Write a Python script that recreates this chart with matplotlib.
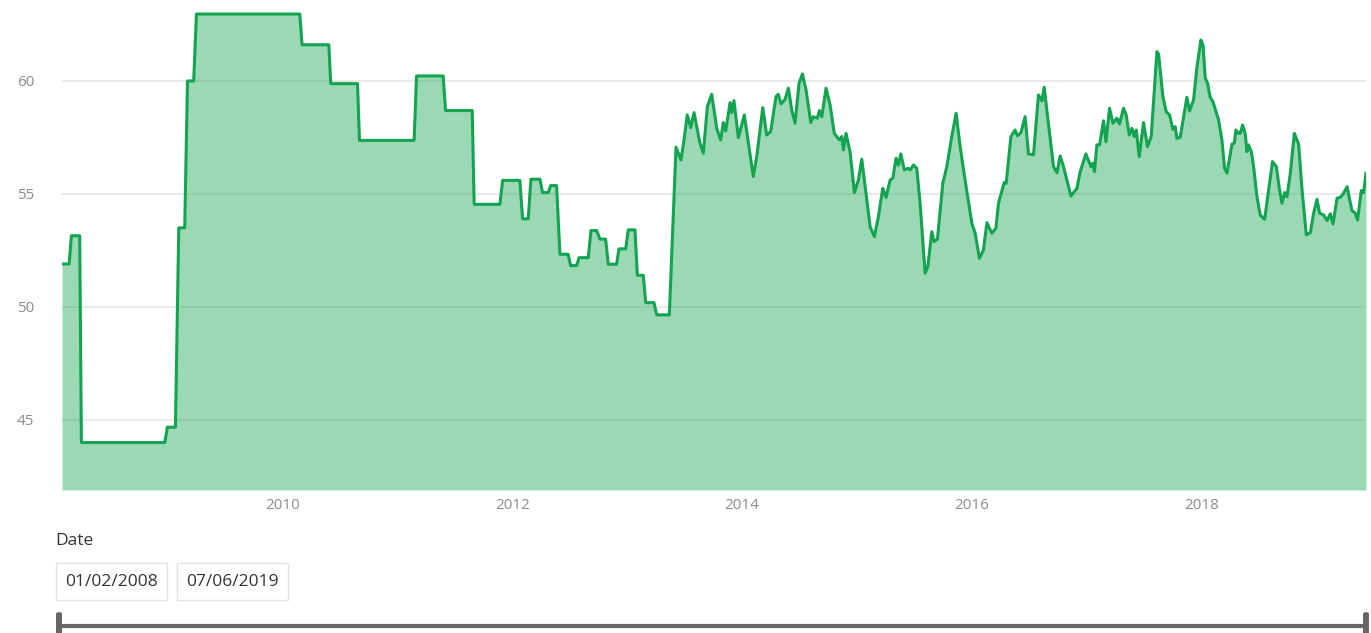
import matplotlib.pyplot as plt
from matplotlib.lines import Line2D
from matplotlib.patches import Rectangle, FancyBboxPatch

# time in decimal years
years = [
    2008.077, 2008.139, 2008.159, 2008.231, 2008.246, 2008.972, 2008.995, 2009.065,
    2009.094, 2009.146, 2009.170, 2009.224, 2009.248, 2010.148, 2010.168, 2010.401,
    2010.418, 2010.651, 2010.668, 2011.144, 2011.165, 2011.397, 2011.418, 2011.650,
    2011.667, 2011.891, 2011.915, 2012.065, 2012.089, 2012.138, 2012.161, 2012.240,
    2012.263, 2012.312, 2012.333, 2012.385, 2012.414, 2012.486, 2012.507, 2012.560,
    2012.580, 2012.661, 2012.684, 2012.734, 2012.763, 2012.812, 2012.835, 2012.908,
    2012.928, 2012.987, 2013.009, 2013.068, 2013.088, 2013.140, 2013.161, 2013.233,
    2013.257, 2013.367,
    2013.425, 2013.468, 2013.495, 2013.523, 2013.553, 2013.582, 2013.634, 2013.663,
    2013.698, 2013.736, 2013.780, 2013.814, 2013.837, 2013.858, 2013.896, 2013.910,
    2013.930, 2013.968, 2014.020, 2014.098, 2014.128, 2014.181, 2014.215, 2014.250,
    2014.296, 2014.316, 2014.340, 2014.375, 2014.404, 2014.433, 2014.462, 2014.497,
    2014.526, 2014.558, 2014.599, 2014.621, 2014.656, 2014.674, 2014.695, 2014.732,
    2014.767, 2014.804, 2014.848, 2014.869, 2014.883, 2014.906, 2014.941, 2014.979,
    2015.014, 2015.043, 2015.087, 2015.116, 2015.153, 2015.188, 2015.226, 2015.255,
    2015.290, 2015.313, 2015.342, 2015.362, 2015.383, 2015.414, 2015.449, 2015.464,
    2015.493, 2015.522, 2015.551, 2015.595, 2015.618, 2015.653, 2015.673, 2015.702,
    2015.749, 2015.784, 2015.827, 2015.865, 2015.900, 2015.943, 2016.002, 2016.031,
    2016.068, 2016.103, 2016.133, 2016.176, 2016.211, 2016.234, 2016.283, 2016.301,
    2016.342, 2016.379, 2016.399, 2016.429, 2016.466, 2016.495, 2016.539, 2016.582,
    2016.612, 2016.632, 2016.669, 2016.713, 2016.743, 2016.771, 2016.800, 2016.865,
    2016.917, 2016.946, 2016.995, 2017.039, 2017.056, 2017.070, 2017.091, 2017.114,
    2017.149, 2017.170, 2017.201, 2017.231, 2017.265, 2017.288, 2017.323, 2017.346,
    2017.373, 2017.396, 2017.416, 2017.434, 2017.460, 2017.497, 2017.532, 2017.564,
    2017.614, 2017.628, 2017.666, 2017.695, 2017.724, 2017.753, 2017.773, 2017.788,
    2017.817, 2017.875, 2017.898, 2017.933, 2017.963, 2017.997, 2018.015, 2018.035,
    2018.055, 2018.078, 2018.102, 2018.151, 2018.180, 2018.203, 2018.224, 2018.268,
    2018.288, 2018.302, 2018.325, 2018.340, 2018.360, 2018.383, 2018.398, 2018.412,
    2018.436, 2018.456, 2018.485, 2018.514, 2018.552, 2018.587, 2018.621, 2018.654,
    2018.682, 2018.703, 2018.726, 2018.747, 2018.776, 2018.811, 2018.848, 2018.878,
    2018.915, 2018.950, 2018.979, 2019.008, 2019.031, 2019.066, 2019.096, 2019.124,
    2019.148, 2019.183, 2019.211, 2019.235, 2019.270, 2019.292, 2019.313, 2019.342,
    2019.362, 2019.394, 2019.414, 2019.435,
]
values = [
    51.9, 51.9, 53.15, 53.15, 44.0, 44.0, 44.68, 44.68,
    53.5, 53.5, 60.0, 60.0, 62.96, 62.96, 61.6, 61.6,
    59.88, 59.88, 57.37, 57.37, 60.22, 60.22, 58.69, 58.69,
    54.54, 54.54, 55.6, 55.6, 53.9, 53.9, 55.65, 55.65,
    55.06, 55.06, 55.37, 55.37, 52.33, 52.33, 51.83, 51.83,
    52.18, 52.18, 53.38, 53.38, 53.0, 53.0, 51.89, 51.89,
    52.57, 52.57, 53.41, 53.41, 51.4, 51.4, 50.19, 50.19,
    49.65, 49.65,
    57.07, 56.5, 57.39, 58.5, 57.93, 58.6, 57.24, 56.8,
    58.86, 59.41, 57.9, 57.39, 58.16, 57.79, 59.04, 58.6,
    59.13, 57.49, 58.5, 55.77, 56.65, 58.82, 57.61, 57.76,
    59.31, 59.41, 58.98, 59.19, 59.68, 58.72, 58.13, 59.9,
    60.31, 59.6, 58.16, 58.42, 58.35, 58.69, 58.42, 59.68,
    58.94, 57.68, 57.39, 57.54, 56.95, 57.68, 56.87, 55.06,
    55.62, 56.54, 54.73, 53.55, 53.11, 54.0, 55.25, 54.85,
    55.62, 55.69, 56.58, 56.28, 56.77, 56.06, 56.14, 56.06,
    56.28, 56.14, 54.59, 51.49, 51.78, 53.33, 52.89, 53.0,
    55.47, 56.21, 57.54, 58.57, 57.09, 55.62, 53.7, 53.26,
    52.15, 52.52, 53.73, 53.26, 53.48, 54.59, 55.5, 55.47,
    57.54, 57.83, 57.57, 57.71, 58.42, 56.77, 56.73, 59.38,
    59.12, 59.72, 58.13, 56.21, 55.94, 56.68, 56.21, 54.91,
    55.25, 55.99, 56.77, 56.21, 56.36, 55.99, 57.17, 57.17,
    58.24, 57.31, 58.79, 58.13, 58.35, 58.1, 58.79, 58.5,
    57.61, 57.9, 57.54, 57.83, 56.65, 58.16, 57.09, 57.54,
    61.3, 61.19, 59.31, 58.64, 58.5, 57.86, 57.98, 57.46,
    57.51, 59.28, 58.67, 59.16, 60.63, 61.81, 61.59, 60.12,
    59.9, 59.28, 59.08, 58.27, 57.39, 56.14, 55.92, 57.21,
    57.24, 57.83, 57.68, 57.68, 58.05, 57.68, 56.87, 57.17,
    56.87, 56.21, 54.88, 54.07, 53.88, 55.18, 56.43, 56.21,
    55.18, 54.59, 55.06, 54.88, 55.92, 57.68, 57.21, 55.18,
    53.19, 53.29, 54.15, 54.76, 54.15, 54.07, 53.82, 54.12,
    53.67, 54.81, 54.85, 54.99, 55.32, 54.76, 54.26, 54.15,
    53.85, 55.15, 55.06, 55.92,
]
y_ticks = [45, 50, 55, 60]
x_ticks = [2010, 2012, 2014, 2016, 2018]
slicer_dates = ["01/02/2008", "07/06/2019"]

W, H = 1371, 633
plt.rcParams['font.family'] = ['Open Sans', 'DejaVu Sans']

fig = plt.figure(figsize=(W / 100, H / 100), dpi=100)
fig.patch.set_facecolor('white')


def fx(px):
    return px / W


def fy(py):
    return 1 - py / H


ax = fig.add_axes([fx(62), fy(490), (1366 - 62) / W, (490 - 5) / H])
ymin, ymax = 41.9, 63.36
line_col = '#14a350'
ax.fill_between(years, values, ymin, color='#1aaa55', alpha=0.44, lw=0, zorder=2)
ax.plot(years, values, color=line_col, lw=2.2, zorder=3, solid_joinstyle='round')
ax.set_xlim(years[0], years[-1])
ax.set_ylim(ymin, ymax)

ax.set_yticks(y_ticks)
ax.set_xticks(x_ticks)
ax.set_xticklabels([str(t) for t in x_ticks])
ax.grid(axis='y', color='#e6e6e6', lw=1.2, zorder=1)
ax.tick_params(length=0, labelsize=11, labelcolor='#8c8c8c')
ax.tick_params(axis='y', pad=20)
ax.tick_params(axis='x', pad=6)
for s in ax.spines.values():
    s.set_visible(False)

# date slicer below the chart
fig.text(fx(55), fy(541), "Date", fontsize=12.5, color='#333333', va='center', ha='left')
boxes = [(56, 167), (177, 288)]
for (x0, x1), label in zip(boxes, slicer_dates):
    fig.add_artist(Rectangle((fx(x0), fy(600)), (x1 - x0) / W, (600 - 563) / H,
                             transform=fig.transFigure, fill=False,
                             edgecolor='#e3e3e3', lw=1))
    fig.text(fx((x0 + x1) / 2), fy(582), label, fontsize=12.5, color='#333333',
             va='center', ha='center')

fig.add_artist(Line2D([fx(60), fx(1366)], [fy(626), fy(626)], color='#666666', lw=3,
                      transform=fig.transFigure))
for hx in (59, 1366):
    fig.add_artist(FancyBboxPatch((fx(hx - 3), fy(640)), 6 / W, 28 / H,
                                  boxstyle='round,pad=0,rounding_size=0.003',
                                  transform=fig.transFigure, facecolor='#666666',
                                  edgecolor='none'))

fig.savefig('out.png', dpi=100, facecolor='white')
